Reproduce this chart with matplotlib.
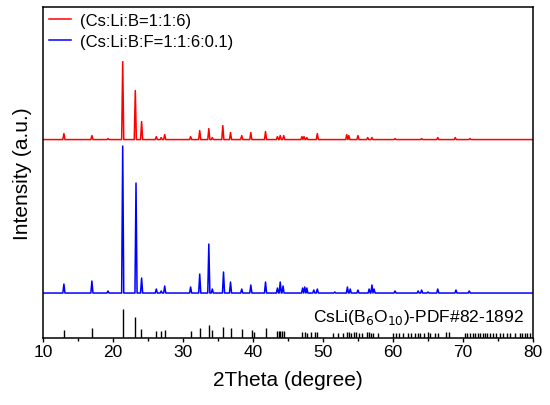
import matplotlib
matplotlib.use("Agg")
import matplotlib.pyplot as plt
import numpy as np

plt.rcParams["font.family"] = ["Liberation Sans", "DejaVu Sans"]

# peak positions (2theta) and heights (a.u.)
red_pos = [13.0, 17.0, 19.3, 21.4, 23.2, 24.1, 26.2, 26.9, 27.4, 31.1, 32.4,
           33.7, 34.2, 35.7, 36.8, 38.4, 39.7, 41.8, 43.5, 43.9, 44.4, 47.0,
           47.3, 47.7, 49.2, 53.4, 53.7, 55.0, 56.4, 57.0, 60.3, 64.1, 66.4,
           68.9, 71.0]
red_h = [6, 4, 1, 78, 49, 18, 3, 2, 5, 3, 9,
         11, 2, 14, 7, 4, 7, 8, 3, 4, 4, 3,
         3, 2, 6, 5, 4, 4, 2, 2, 1, 1, 2,
         2, 1]

blue_pos = [13.0, 17.0, 19.3, 21.4, 23.3, 24.1, 26.2, 26.9, 27.4, 31.1, 32.4,
            33.7, 34.2, 35.8, 36.8, 38.4, 39.7, 41.8, 43.5, 43.9, 44.3, 47.1,
            47.4, 47.7, 48.7, 49.2, 51.7, 53.5, 53.9, 55.0, 56.6, 57.0, 57.3,
            60.3, 63.6, 64.1, 65.0, 66.4, 69.0, 70.9]
blue_h = [9, 12, 2, 147, 110, 15, 4, 2, 7, 6, 19,
          49, 4, 21, 11, 4, 8, 11, 5, 11, 7, 5,
          6, 5, 3, 4, 1, 6, 4, 3, 4, 8, 4,
          2, 2, 3, 1, 4, 3, 2]

# reference pattern CsLi(B6O10) PDF#82-1892
pdf_pos = [13.0, 17.0, 21.4, 23.2, 24.0, 26.1, 26.9, 27.4, 31.1, 32.4, 33.7,
           34.2, 35.7, 36.8, 38.5, 39.8, 40.2, 41.8, 43.5, 43.7, 43.9, 44.1,
           44.4, 47.0, 47.4, 47.7, 48.3, 48.9, 49.2, 51.5, 52.2, 52.8, 53.5,
           53.7, 54.0, 54.4, 54.7, 55.1, 55.6, 56.3, 56.6, 56.9, 57.1, 57.8,
           60.0, 60.5, 60.9, 61.5, 62.2, 62.6, 63.1, 63.6, 63.9, 64.4, 65.0,
           65.3, 66.0, 66.4, 67.6, 68.0, 70.3, 70.6, 71.0, 71.4, 71.7, 72.1,
           72.4, 72.8, 73.1, 73.5, 73.9, 74.3, 74.7, 75.3, 75.7, 76.3, 76.7,
           77.4, 78.1, 78.5, 78.8, 79.2, 79.6]
pdf_h = [8, 10, 29, 21, 9, 7, 7, 8, 7, 10, 13,
         8, 11, 10, 9, 8, 6, 10, 7, 7, 7, 7,
         7, 6, 6, 5, 6, 6, 6, 5, 5, 5, 6,
         6, 5, 6, 6, 5, 5, 6, 6, 5, 5, 5,
         5, 5, 5, 5, 5, 5, 5, 5, 5, 5, 6,
         5, 5, 5, 6, 6, 5, 5, 5, 5, 5, 5,
         5, 5, 5, 5, 5, 5, 5, 5, 5, 5, 5,
         5, 5, 5, 5, 5, 5]

red_offset = 198.5
blue_offset = 45.0

red_label = "(Cs:Li:B=1:1:6)"
blue_label = "(Cs:Li:B:F=1:1:6:0.1)"
pdf_label = r"CsLi(B$_6$O$_{10}$)-PDF#82-1892"


def spikes(pos, heights, offset, half=0.15):
    """Polyline through baseline and peak tops, from 10 to 80 degrees."""
    xs, ys = [10.0], [offset]
    for p, h in sorted(zip(pos, heights)):
        xs += [p - half, p, p + half]
        ys += [offset, offset + h, offset]
    xs.append(80.0)
    ys.append(offset)
    return np.array(xs), np.array(ys)


fig = plt.figure(figsize=(5.5, 4.06), dpi=100)
ax = fig.add_axes([0.078, 0.165, 0.891, 0.815])

x, y = spikes(red_pos, red_h, red_offset)
ax.plot(x, y, color="red", lw=1.1, label=red_label)
x, y = spikes(blue_pos, blue_h, blue_offset)
ax.plot(x, y, color="blue", lw=1.1, label=blue_label)
ax.vlines(pdf_pos, 0, pdf_h, color="black", lw=1.0)

ax.text(78.7, 22, pdf_label, ha="right", va="center", fontsize=12.5)

ax.set_xlim(10, 80)
ax.set_ylim(0, 331)
ax.set_xticks(np.arange(10, 81, 10))
ax.set_xticks(np.arange(15, 80, 10), minor=True)
ax.set_yticks([])
ax.tick_params(axis="x", which="major", direction="out", length=3, width=1, labelsize=12.5, pad=1.5)
ax.tick_params(axis="x", which="minor", direction="out", length=2, width=1)
for s in ax.spines.values():
    s.set_linewidth(1.1)

ax.set_xlabel("2Theta (degree)", fontsize=15, labelpad=8)
ax.set_ylabel("Intensity (a.u.)", fontsize=15, labelpad=8)

ax.legend(loc="upper left", frameon=False, fontsize=12, handlelength=1.35,
          handletextpad=0.5, borderaxespad=0.0, borderpad=0.35, labelspacing=0.35,
          bbox_to_anchor=(0.0, 1.0))

fig.savefig("out.png", dpi=100)
